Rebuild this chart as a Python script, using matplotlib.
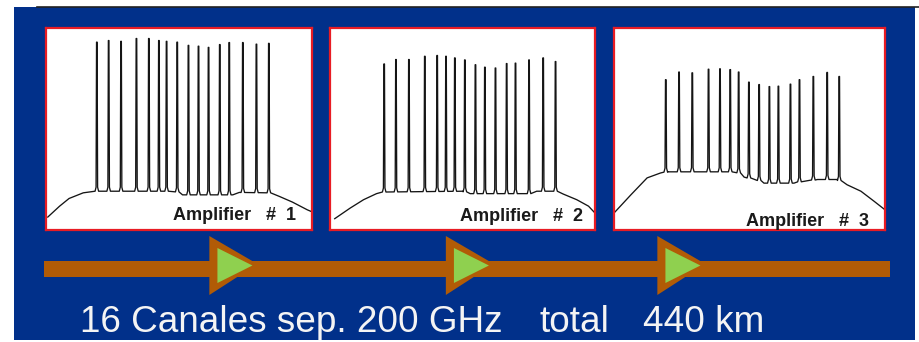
import numpy as np
import matplotlib
matplotlib.use("Agg")
import matplotlib.pyplot as plt
from matplotlib.patches import Rectangle, Polygon
from matplotlib.lines import Line2D

# ---------------------------------------------------------------------------
# Data: optical spectra after each amplifier (wavelength in nm, power in dB)
# ---------------------------------------------------------------------------
amp_labels = ["Amplifier   #  1", "Amplifier   #  2", "Amplifier   #  3"]

peak_nm_1 = [1533.6, 1535.6, 1537.7, 1540.3, 1542.4, 1544.1, 1545.4, 1547.2,
             1549.1, 1550.8, 1552.5, 1554.4, 1556.0, 1558.3, 1560.6, 1562.7]
peak_db_1 = [-3.5, -3.1, -3.3, -2.6, -2.6, -3.1, -3.3, -3.5,
             -4.3, -4.5, -4.8, -4.1, -3.6, -3.6, -4.0, -3.8]
floor_nm_1 = [1525.3, 1527.3, 1528.9, 1531.3, 1533.5, 1547.0, 1548.1,
              1556.6, 1557.7, 1562.8, 1564.5, 1566.7, 1569.2, 1570.0]
floor_db_1 = [-46.8, -44.1, -42.2, -40.8, -40.4, -40.4, -41.3,
              -41.3, -40.7, -40.8, -41.7, -43.1, -45.0, -45.5]

peak_nm_2 = [1534.2, 1536.2, 1538.4, 1541.1, 1543.2, 1544.7, 1546.2, 1547.9,
             1549.7, 1551.3, 1553.1, 1555.0, 1556.5, 1558.8, 1561.2, 1563.3]
peak_db_2 = [-8.9, -7.8, -7.8, -7.0, -6.8, -7.0, -7.4, -7.9,
             -9.1, -9.7, -9.9, -8.8, -8.7, -7.9, -7.4, -8.3]
floor_nm_2 = [1525.8, 1528.4, 1530.7, 1532.9, 1534.1, 1547.6, 1548.8,
              1559.0, 1560.1, 1563.5, 1564.6, 1566.9, 1568.9, 1570.0]
floor_db_2 = [-47.2, -44.6, -42.5, -41.0, -40.6, -40.4, -41.0,
              -41.0, -40.4, -40.4, -41.1, -42.5, -44.1, -45.8]

peak_nm_3 = [1533.6, 1535.8, 1538.0, 1540.7, 1542.6, 1544.3, 1545.7, 1547.4,
             1549.1, 1550.8, 1552.3, 1554.3, 1555.8, 1558.1, 1560.4, 1562.4]
peak_db_3 = [-12.8, -10.9, -11.1, -10.2, -10.1, -10.3, -10.9, -13.4,
             -14.0, -14.5, -14.4, -13.9, -12.8, -12.0, -11.0, -12.0]
floor_nm_3 = [1525.0, 1527.8, 1530.5, 1532.7, 1533.9, 1545.5, 1546.6, 1548.8,
              1549.9, 1554.9, 1556.0, 1558.8, 1562.1, 1563.7, 1566.0, 1568.2,
              1570.0]
floor_db_3 = [-45.8, -41.3, -37.1, -35.9, -35.6, -35.6, -36.9, -37.5,
              -38.4, -38.4, -38.0, -37.5, -37.5, -38.8, -40.4, -42.9, -45.0]

# Link: total length and amplifier sites (km)
link_km = 440
amp_km = [86, 209, 319]

caption_parts = ["16 Canales sep. 200 GHz", "total", "440 km"]

# ---------------------------------------------------------------------------
W, H = 919, 342
BLUE = "#01308a"
ORANGE = "#b15b06"
GREEN = "#8fd04f"
RED = "#e81c24"

fig = plt.figure(figsize=(W / 100, H / 100), dpi=100)
fig.patch.set_facecolor("white")


def px_box(left, top, width, height):
    return [left / W, 1 - (top + height) / H, width / W, height / H]


def fx(x):
    return x / W


def fy(y):
    return 1 - y / H


# slide background and top rule
fig.patches.append(Rectangle((fx(14), fy(340)), fx(901), (333) / H,
                             transform=fig.transFigure, facecolor=BLUE,
                             edgecolor="none", zorder=-5))
fig.add_artist(Line2D([fx(37), 1.0], [fy(6.5), fy(6.5)],
                      transform=fig.transFigure, color="#222222", lw=1.2,
                      zorder=-4))


def spectrum_trace(peak_nm, peak_db, floor_nm, floor_db, half=0.30):
    """Combine the ASE floor with narrow channel spikes into one trace."""
    peak_nm = np.asarray(peak_nm)
    floor_nm = np.asarray(floor_nm)
    floor_db = np.asarray(floor_db)
    keep = np.ones(len(floor_nm), bool)
    for p in peak_nm:
        keep &= np.abs(floor_nm - p) > half
    xs = list(floor_nm[keep])
    ys = list(floor_db[keep])
    for p, top in zip(peak_nm, peak_db):
        base = np.interp(p, floor_nm, floor_db)
        shape_x = [p - half, p - 0.13, p - 0.05, p + 0.05, p + 0.13, p + half]
        shape_y = [base, base + 1.0, top, top, base + 1.0, base]
        xs += shape_x
        ys += shape_y
    order = np.argsort(xs, kind="stable")
    return np.asarray(xs)[order], np.asarray(ys)[order]


panels = [
    (px_box(46, 28, 266, 202), peak_nm_1, peak_db_1, floor_nm_1, floor_db_1, 0.94, 0.05),
    (px_box(330, 28, 265, 202), peak_nm_2, peak_db_2, floor_nm_2, floor_db_2, 0.955, 0.045),
    (px_box(614, 28, 271, 202), peak_nm_3, peak_db_3, floor_nm_3, floor_db_3, 0.941, 0.02),
]

for (box, pnm, pdb, fnm, fdb, lx, ly), label in zip(panels, amp_labels):
    ax = fig.add_axes(box)
    ax.set_facecolor("white")
    x, y = spectrum_trace(pnm, pdb, fnm, fdb)
    ax.plot(x, y, color="#151515", lw=0.95, solid_joinstyle="round")
    ax.set_xlim(1525, 1570)
    ax.set_ylim(-50, 0)
    ax.set_xticks([])
    ax.set_yticks([])
    for s in ax.spines.values():
        s.set_color(RED)
        s.set_linewidth(1.6)
    ax.text(lx, ly, label, transform=ax.transAxes, ha="right", va="baseline",
            fontsize=13, fontweight="bold", family="Liberation Sans",
            color="#1a1a1a")

# transmission link with the three in-line amplifiers
link = fig.add_axes(px_box(44, 230, 846, 70))
link.set_xlim(0, link_km)
link.set_ylim(35, -35)
link.axis("off")
link.patch.set_alpha(0)
link.axhspan(-4.3, 11.7, color=ORANGE, lw=0)
for a in amp_km:
    link.add_patch(Polygon([(a, -29), (a, 30), (a + 25, -1)], closed=True,
                           facecolor=ORANGE, edgecolor="none", zorder=3))
    link.add_patch(Polygon([(a + 4.2, -17), (a + 4.2, 18), (a + 22.4, 0.5)],
                           closed=True, facecolor=GREEN, edgecolor="none",
                           zorder=4))

# caption
for txt, x0 in zip(caption_parts, [80, 540, 643]):
    fig.text(fx(x0), fy(332), txt, ha="left", va="baseline", fontsize=26.6,
             family="Liberation Sans", color="#f4f4f4")

fig.savefig("out.png", dpi=100, facecolor=fig.get_facecolor())
